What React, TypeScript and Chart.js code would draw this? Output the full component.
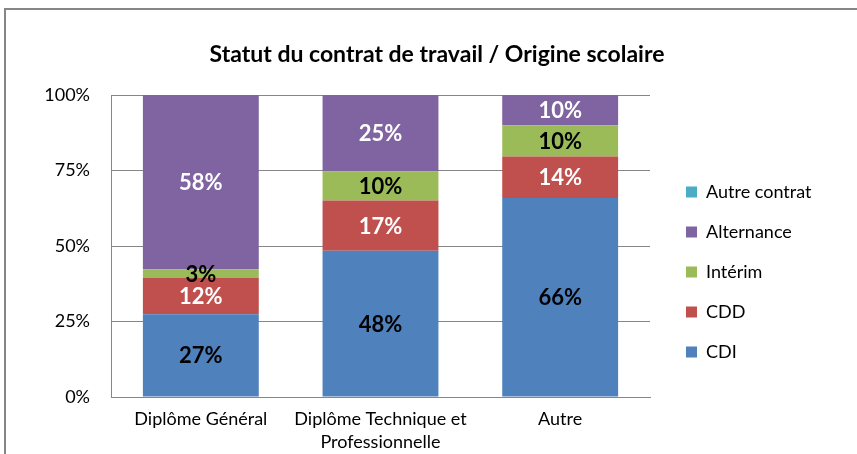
import { useEffect, useRef } from 'react';
import { Chart, registerables } from 'chart.js';

Chart.register(...registerables);

const chartTitle = 'Statut du contrat de travail / Origine scolaire';
const categories: string[][] = [['Diplôme Général'], ['Diplôme Technique et', 'Professionnelle'], ['Autre']];
const cdi = [27.4, 48.4, 65.9];
const cdd = [12.0, 16.7, 13.7];
const interim = [2.9, 9.6, 10.4];
const alternance = [57.7, 25.3, 10.0];
const autreContrat = [0, 0, 0];
const yTicks = [0, 25, 50, 75, 100];

const FONT = 'Lato, "Open Sans", sans-serif';

const series = [
  { label: 'CDI', data: cdi, color: '#4F81BD', text: '#000000' },
  { label: 'CDD', data: cdd, color: '#C0504D', text: '#FFFFFF' },
  { label: 'Intérim', data: interim, color: '#9BBB59', text: '#000000' },
  { label: 'Alternance', data: alternance, color: '#8064A2', text: '#FFFFFF' },
  { label: 'Autre contrat', data: autreContrat, color: '#4BACC6', text: '#000000' },
];

const LEGEND_EXTRA_WIDTH = 53;

const frameAndLabels = {
  id: 'frameAndLabels',
  beforeLayout(chart: any) {
    const lg = chart.legend;
    if (lg && !lg.__widened) {
      const orig = lg.fit;
      lg.fit = function () {
        orig.call(this);
        this.width += LEGEND_EXTRA_WIDTH;
      };
      lg.__widened = true;
    }
  },
  beforeDraw(chart: any) {
    const ctx = chart.ctx;
    ctx.save();
    ctx.fillStyle = '#FFFFFF';
    ctx.fillRect(0, 0, chart.width, chart.height);
    ctx.strokeStyle = '#868686';
    ctx.lineWidth = 2;
    ctx.strokeRect(5, 9, chart.width + 50, chart.height + 50);
    ctx.restore();
  },
  afterDatasetsDraw(chart: any) {
    const ctx = chart.ctx;
    ctx.save();
    ctx.font = `bold 22px ${FONT}`;
    ctx.textAlign = 'center';
    ctx.textBaseline = 'middle';
    chart.data.datasets.forEach((ds: any, di: number) => {
      const meta = chart.getDatasetMeta(di);
      if (meta.hidden) return;
      meta.data.forEach((el: any, i: number) => {
        const v = ds.data[i];
        if (!v) return;
        const p = el.getCenterPoint();
        ctx.fillStyle = series[di].text;
        ctx.fillText(`${Math.round(v)}%`, p.x, p.y + 1);
      });
    });
    ctx.restore();
  },
};

export default function App() {
  const ref = useRef<HTMLCanvasElement>(null);
  useEffect(() => {
    if (!ref.current) return;
    const chart = new Chart(ref.current, {
      type: 'bar',
      data: {
        labels: categories as any,
        datasets: series.map((s) => ({
          label: s.label,
          data: s.data,
          backgroundColor: s.color,
          borderWidth: 0,
          yAxisID: 'y',
          categoryPercentage: 1,
          barPercentage: 0.645,
        })),
      },
      options: {
        animation: false,
        responsive: true,
        maintainAspectRatio: false,
        layout: { padding: { left: 17, right: 0, top: 0, bottom: 0 } },
        plugins: {
          title: {
            display: true,
            text: chartTitle,
            color: '#000000',
            font: { family: FONT, size: 23, weight: 'bold' },
            padding: { top: 41, bottom: 26.4 },
          },
          legend: {
            position: 'right',
            reverse: true,
            title: { display: true, text: ' ', font: { family: FONT, size: 10 }, padding: { top: 78, bottom: 0 } },
            labels: {
              color: '#000000',
              font: { family: FONT, size: 18 },
              boxWidth: 11,
              boxHeight: 11,
              padding: 22,
            },
          },
          tooltip: { enabled: false },
        },
        scales: {
          x: {
            stacked: true,
            grid: { display: false, drawTicks: false },
            border: { display: true, color: '#868686', width: 1 },
            ticks: { color: '#000000', font: { family: FONT, size: 18, lineHeight: 1.3 }, padding: 10, maxRotation: 0, autoSkip: false },
            afterFit: (s: any) => { s.height = 57; },
          },
          y: {
            stacked: true,
            min: 0,
            max: 100,
            afterBuildTicks: (s: any) => { s.ticks = yTicks.map((v) => ({ value: v })); },
            grid: { color: '#868686', lineWidth: 1, drawTicks: false },
            border: { display: true, color: '#868686', width: 1 },
            ticks: { color: '#000000', font: { family: FONT, size: 18 }, padding: 21, callback: (v: any) => `${v}%` },
            afterFit: (s: any) => { s.width = 94; },
          },
          gap: {
            type: 'linear',
            position: 'right',
            display: true,
            grid: { display: false, drawTicks: false },
            border: { display: false },
            ticks: { display: false },
            afterFit: (s: any) => { s.width = 14; },
          },
        },
      },
      plugins: [frameAndLabels],
    });
    return () => chart.destroy();
  }, []);
  return (
    <div style={{ position: 'absolute', left: 0, top: 0, width: 857, height: 454 }}>
      <canvas ref={ref} />
    </div>
  );
}
